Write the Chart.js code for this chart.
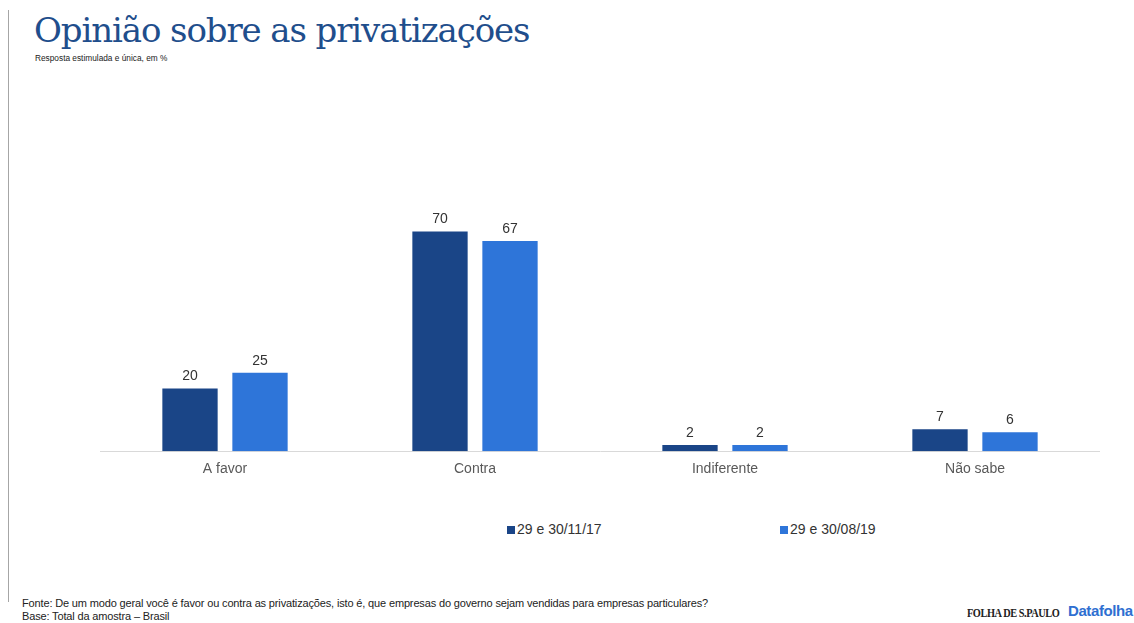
<!DOCTYPE html>
<html>
<head>
<meta charset="utf-8">
<script src="https://cdn.jsdelivr.net/npm/chart.js@4"></script>
<style>
  body { margin:0; width:1134px; height:623px; background:#fff; position:relative; overflow:hidden; font-family:"Liberation Sans", Arial, sans-serif; }
  #bar { position:absolute; left:8px; top:10px; width:1px; height:592px; background:#a6a6a6; }
  #title { position:absolute; left:34px; top:10px; font-family:"DejaVu Serif", serif; font-size:34px; color:#1f4e8c; white-space:nowrap; letter-spacing:-1.1px; }
  #sub { position:absolute; left:35px; top:53px; font-size:8.3px; color:#222; }
  #wrap { position:absolute; left:100px; top:187px; width:1000px; height:300px; }
  #legend { position:absolute; top:521px; left:0; width:1134px; font-size:14px; color:#333; }
  .item { position:absolute; white-space:nowrap; }
  .sw { display:inline-block; width:8px; height:8px; margin-right:2px; vertical-align:0px; }
  #foot { position:absolute; left:22px; top:597px; font-size:11px; line-height:13px; color:#222; letter-spacing:-0.15px; }
  #folha { position:absolute; left:967px; top:606px; font-family:"Liberation Serif", serif; font-weight:bold; font-size:12px; color:#222; letter-spacing:-0.5px; transform:scaleX(0.86); transform-origin:left top; white-space:nowrap; }
  #dfolha { position:absolute; left:1068px; top:602px; font-weight:bold; font-size:15px; color:#2e6fd1; letter-spacing:-0.4px; }
</style>
</head>
<body>
<div id="bar"></div>
<div id="title">Opinião sobre as privatizações</div>
<div id="sub">Resposta estimulada e única, em %</div>
<div id="wrap"><canvas id="myChart"></canvas></div>
<div id="legend"></div>
<div id="foot">Fonte: De um modo geral você é favor ou contra as privatizações, isto é, que empresas do governo sejam vendidas para empresas particulares?<br>Base: Total da amostra – Brasil</div>
<div id="folha">FOLHA DE S.PAULO</div>
<div id="dfolha">Datafolha</div>
<script>
const categories = ['A favor', 'Contra', 'Indiferente', 'Não sabe'];
const seriesNames = ['29 e 30/11/17', '29 e 30/08/19'];
const nov17 = [20, 70, 2, 7];
const ago19 = [25, 67, 2, 6];
const colors = ['#1a4587', '#2e75d9'];
const legendX = [507, 780];

function main() {
  renderLegend();
  renderChart();
}

function renderLegend() {
  const legend = document.getElementById('legend');
  seriesNames.forEach(function (name, i) {
    const item = document.createElement('span');
    item.className = 'item';
    item.style.left = legendX[i] + 'px';
    item.innerHTML = '<span class="sw" style="background:' + colors[i] + '"></span>' + name;
    legend.appendChild(item);
  });
}

// numbers on top of each bar
const barLabels = {
  id: 'barLabels',
  afterDatasetsDraw(chart) {
    const ctx = chart.ctx;
    ctx.save();
    ctx.font = '14px "Liberation Sans", Arial, sans-serif';
    ctx.fillStyle = '#333';
    ctx.textAlign = 'center';
    ctx.textBaseline = 'bottom';
    chart.data.datasets.forEach(function (ds, i) {
      chart.getDatasetMeta(i).data.forEach(function (bar, j) {
        ctx.fillText(ds.data[j], bar.x, bar.y - 5);
      });
    });
    ctx.restore();
  }
};

function renderChart() {
  const chartDiv = document.getElementById('myChart');
  new Chart(chartDiv, {
    type: 'bar',
    data: {
      labels: categories,
      datasets: [
        { label: seriesNames[0], data: nov17, backgroundColor: colors[0] },
        { label: seriesNames[1], data: ago19, backgroundColor: colors[1] }
      ]
    },
    options: {
      responsive: true,
      maintainAspectRatio: false,
      animation: false,
      categoryPercentage: 0.56,
      barPercentage: 0.79,
      layout: { padding: { top: 10, bottom: 7 } },
      plugins: { legend: { display: false }, tooltip: { enabled: false } },
      scales: {
        y: { display: false, min: 0, max: 81 },
        x: {
          grid: { display: false },
          border: { display: true, color: '#d9d9d9', width: 1 },
          ticks: { color: '#595959', padding: 2, font: { size: 14, family: '"Liberation Sans", Arial, sans-serif' } }
        }
      }
    },
    plugins: [barLabels]
  });
}

document.addEventListener('DOMContentLoaded', function () {
  main();
});
</script>
</body>
</html>
